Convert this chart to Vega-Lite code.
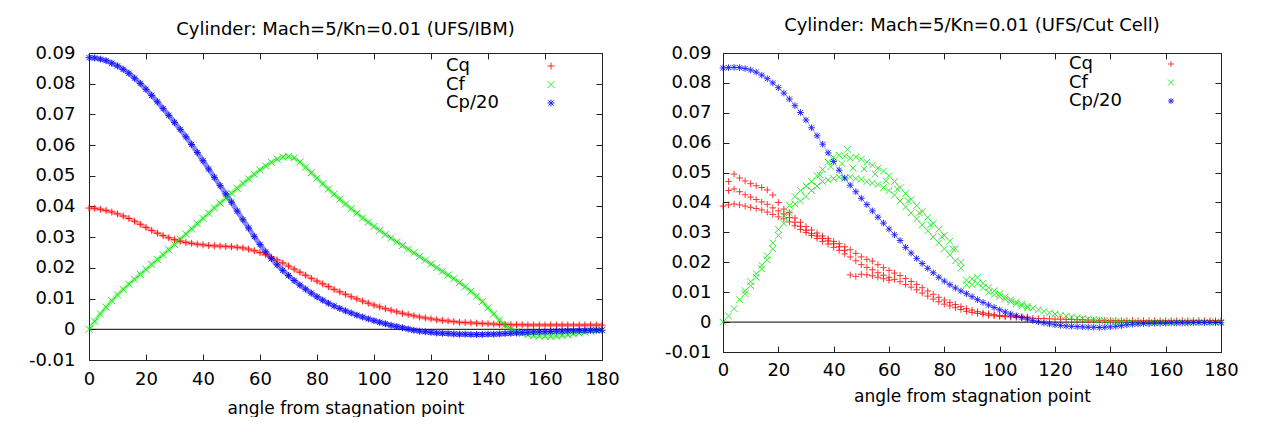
{
  "$schema": "https://vega.github.io/schema/vega-lite/v6.json",
  "background": "white",
  "padding": {"left": 27, "top": 16, "right": 0, "bottom": 0},
  "spacing": 43,
  "config": {
    "font": "DejaVu Sans",
    "view": {"stroke": "#222", "strokeWidth": 1},
    "axis": {"labelFont": "DejaVu Sans", "labelFontSize": 18, "labelColor": "#000", "titleFont": "DejaVu Sans", "titleFontSize": 17, "titleFontWeight": "normal", "titleColor": "#000", "domain": false, "grid": false, "tickColor": "#222", "tickSize": 6, "offset": -6, "labelPadding": 14, "labelFlush": false, "labelOverlap": false},
    "title": {"font": "DejaVu Sans", "fontSize": 18, "fontWeight": "normal", "color": "#000"}
  },
  "resolve": {"scale": {"color": "independent", "shape": "independent", "x": "independent", "y": "independent"}, "legend": {"color": "independent", "shape": "independent"}},
  "hconcat": [
    {
      "width": 513,
      "height": 307,
      "title": {"text": "Cylinder: Mach=5/Kn=0.01 (UFS/IBM)", "offset": 5},
      "data": {"values": [
        {"a":0,"q":0.0395,"f":0,"p":0.0885},{"a":2,"q":0.0394,"f":0.0026,"p":0.0884},{"a":4,"q":0.0391,"f":0.0050,"p":0.0880},{"a":6,"q":0.0387,"f":0.0072,"p":0.0875},{"a":8,"q":0.0382,"f":0.0093,"p":0.0867},{"a":10,"q":0.0376,"f":0.0112,"p":0.0858},{"a":12,"q":0.0369,"f":0.0130,"p":0.0847},{"a":14,"q":0.0361,"f":0.0147,"p":0.0834},{"a":16,"q":0.0352,"f":0.0163,"p":0.0818},{"a":18,"q":0.0342,"f":0.0179,"p":0.0801},
        {"a":20,"q":0.0332,"f":0.0195,"p":0.0782},{"a":22,"q":0.0322,"f":0.0211,"p":0.0762},{"a":24,"q":0.0313,"f":0.0227,"p":0.0741},{"a":26,"q":0.0305,"f":0.0243,"p":0.0719},{"a":28,"q":0.0298,"f":0.0259,"p":0.0697},{"a":30,"q":0.0292,"f":0.0276,"p":0.0674},{"a":32,"q":0.0287,"f":0.0293,"p":0.0651},{"a":34,"q":0.0283,"f":0.0310,"p":0.0627},{"a":36,"q":0.0280,"f":0.0327,"p":0.0602},{"a":38,"q":0.0277,"f":0.0344,"p":0.0576},
        {"a":40,"q":0.0275,"f":0.0361,"p":0.0549},{"a":42,"q":0.0273,"f":0.0378,"p":0.0522},{"a":44,"q":0.0272,"f":0.0395,"p":0.0495},{"a":46,"q":0.0271,"f":0.0411,"p":0.0468},{"a":48,"q":0.0270,"f":0.0427,"p":0.0441},{"a":50,"q":0.0269,"f":0.0443,"p":0.0414},{"a":52,"q":0.0267,"f":0.0459,"p":0.0385},{"a":54,"q":0.0265,"f":0.0475,"p":0.0357},{"a":56,"q":0.0261,"f":0.0490,"p":0.0330},{"a":58,"q":0.0256,"f":0.0505,"p":0.0302},
        {"a":60,"q":0.0250,"f":0.0519,"p":0.0276},{"a":62,"q":0.0243,"f":0.0532,"p":0.0252},{"a":64,"q":0.0235,"f":0.0544,"p":0.0230},{"a":66,"q":0.0226,"f":0.0554,"p":0.0210},{"a":68,"q":0.0216,"f":0.0561,"p":0.0192},{"a":70,"q":0.0206,"f":0.0563,"p":0.0175},{"a":72,"q":0.0196,"f":0.0558,"p":0.0159},{"a":74,"q":0.0186,"f":0.0545,"p":0.0144},{"a":76,"q":0.0176,"f":0.0528,"p":0.0131},{"a":78,"q":0.0166,"f":0.0510,"p":0.0118},
        {"a":80,"q":0.0157,"f":0.0492,"p":0.0106},{"a":82,"q":0.0148,"f":0.0474,"p":0.0095},{"a":84,"q":0.0139,"f":0.0457,"p":0.0085},{"a":86,"q":0.0130,"f":0.0440,"p":0.0076},{"a":88,"q":0.0122,"f":0.0424,"p":0.0068},{"a":90,"q":0.0114,"f":0.0408,"p":0.0060},{"a":92,"q":0.0106,"f":0.0393,"p":0.0053},{"a":94,"q":0.0099,"f":0.0378,"p":0.0046},{"a":96,"q":0.0092,"f":0.0363,"p":0.0040},{"a":98,"q":0.0085,"f":0.0349,"p":0.0034},
        {"a":100,"q":0.0079,"f":0.0335,"p":0.0028},{"a":102,"q":0.0073,"f":0.0322,"p":0.0023},{"a":104,"q":0.0067,"f":0.0309,"p":0.0018},{"a":106,"q":0.0062,"f":0.0297,"p":0.0013},{"a":108,"q":0.0057,"f":0.0285,"p":0.0009},{"a":110,"q":0.0052,"f":0.0273,"p":0.0005},{"a":112,"q":0.0048,"f":0.0261,"p":0.0001},{"a":114,"q":0.0044,"f":0.0249,"p":-0.0003},{"a":116,"q":0.0040,"f":0.0237,"p":-0.0006},{"a":118,"q":0.0037,"f":0.0225,"p":-0.0008},
        {"a":120,"q":0.0034,"f":0.0213,"p":-0.0010},{"a":122,"q":0.0031,"f":0.0201,"p":-0.0012},{"a":124,"q":0.0029,"f":0.0189,"p":-0.0013},{"a":126,"q":0.0027,"f":0.0177,"p":-0.0014},{"a":128,"q":0.0025,"f":0.0165,"p":-0.0015},{"a":130,"q":0.0023,"f":0.0152,"p":-0.0016},{"a":132,"q":0.0022,"f":0.0139,"p":-0.0016},{"a":134,"q":0.0021,"f":0.0124,"p":-0.0017},{"a":136,"q":0.0020,"f":0.0108,"p":-0.0017},{"a":138,"q":0.0019,"f":0.0090,"p":-0.0017},
        {"a":140,"q":0.0018,"f":0.0070,"p":-0.0016},{"a":142,"q":0.0017,"f":0.0050,"p":-0.0016},{"a":144,"q":0.0016,"f":0.0030,"p":-0.0015},{"a":146,"q":0.0016,"f":0.0013,"p":-0.0014},{"a":148,"q":0.0015,"f":0.0001,"p":-0.0013},{"a":150,"q":0.0015,"f":-0.0008,"p":-0.0012},{"a":152,"q":0.0015,"f":-0.0014,"p":-0.0011},{"a":154,"q":0.0014,"f":-0.0018,"p":-0.0010},{"a":156,"q":0.0014,"f":-0.0021,"p":-0.0009},{"a":158,"q":0.0014,"f":-0.0022,"p":-0.0008},
        {"a":160,"q":0.0014,"f":-0.0023,"p":-0.0008},{"a":162,"q":0.0014,"f":-0.0023,"p":-0.0007},{"a":164,"q":0.0014,"f":-0.0022,"p":-0.0006},{"a":166,"q":0.0014,"f":-0.0020,"p":-0.0006},{"a":168,"q":0.0014,"f":-0.0018,"p":-0.0005},{"a":170,"q":0.0014,"f":-0.0015,"p":-0.0005},{"a":172,"q":0.0014,"f":-0.0012,"p":-0.0004},{"a":174,"q":0.0014,"f":-0.0009,"p":-0.0004},{"a":176,"q":0.0014,"f":-0.0006,"p":-0.0003},{"a":178,"q":0.0014,"f":-0.0004,"p":-0.0003},
        {"a":180,"q":0.0014,"f":-0.0002,"p":-0.0003}
      ]},
      "resolve": {"axis": {"x": "independent", "y": "independent"}},
      "layer": [
        {
          "data": {"values": [{}]},
          "mark": {"type": "rule", "color": "#000", "strokeWidth": 1},
          "encoding": {"y": {"datum": 0, "type": "quantitative", "scale": {"domain": [-0.01, 0.09], "nice": false, "zero": false}, "axis": null}}
        },
        {
          "mark": {"type": "line", "strokeWidth": 4, "opacity": 0.45, "color": "#ff3030"},
          "encoding": {
            "x": {"field": "a", "type": "quantitative", "scale": {"domain": [0, 180], "nice": false}, "axis": null},
            "y": {"field": "q", "type": "quantitative", "scale": {"domain": [-0.01, 0.09], "nice": false, "zero": false}, "axis": null}
          }
        },
        {
          "mark": {"type": "line", "strokeWidth": 4, "opacity": 0.45, "color": "#20e820"},
          "encoding": {
            "x": {"field": "a", "type": "quantitative", "scale": {"domain": [0, 180], "nice": false}, "axis": null},
            "y": {"field": "f", "type": "quantitative", "scale": {"domain": [-0.01, 0.09], "nice": false, "zero": false}, "axis": null}
          }
        },
        {
          "mark": {"type": "line", "strokeWidth": 5, "opacity": 0.5, "color": "#1010ff"},
          "encoding": {
            "x": {"field": "a", "type": "quantitative", "scale": {"domain": [0, 180], "nice": false}, "axis": null},
            "y": {"field": "p", "type": "quantitative", "scale": {"domain": [-0.01, 0.09], "nice": false, "zero": false}, "axis": null}
          }
        },
        {
          "transform": [{"fold": ["q", "f", "p"], "as": ["k", "v"]}, {"filter": "isValid(datum.v)"}],
          "mark": {"type": "point", "filled": false, "strokeWidth": 1, "opacity": 0.85},
          "encoding": {
            "x": {"field": "a", "type": "quantitative", "scale": {"domain": [0, 180], "nice": false}, "axis": {"values": [0,20,40,60,80,100,120,140,160,180], "title": "angle from stagnation point", "labelPadding": 10, "titlePadding": 12}},
            "y": {"field": "v", "type": "quantitative", "scale": {"domain": [-0.01, 0.09], "nice": false, "zero": false}, "axis": {"values": [-0.01,0,0.01,0.02,0.03,0.04,0.05,0.06,0.07,0.08,0.09], "format": ".2~f", "labelExpr": "replace(datum.label, '\u2212', '-')", "title": null}},
            "color": {"field": "k", "type": "nominal", "scale": {"domain": ["q", "f", "p"], "range": ["#ff0000", "#00e600", "#0000ff"]}, "legend": {"orient": "none", "legendX": 453, "legendY": 4, "title": null, "values": ["q", "f", "p"], "labelExpr": "datum.value == 'q' ? 'Cq' : datum.value == 'f' ? 'Cf' : 'Cp/20'", "labelFont": "DejaVu Sans", "labelFontSize": 18, "labelColor": "#000", "symbolSize": 49, "symbolStrokeWidth": 1, "symbolOffset": 0, "labelOffset": -114, "rowPadding": 0.5, "padding": 0}},
            "shape": {"field": "k", "type": "nominal", "scale": {"domain": ["q", "f", "p"], "range": ["M-1,0L1,0M0,-1L0,1", "M-1,-1L1,1M-1,1L1,-1", "M-1,0L1,0M0,-1L0,1M-0.75,-0.75L0.75,0.75M-0.75,0.75L0.75,-0.75"]}, "legend": {"orient": "none", "legendX": 453, "legendY": 4, "title": null, "values": ["q", "f", "p"], "labelExpr": "datum.value == 'q' ? 'Cq' : datum.value == 'f' ? 'Cf' : 'Cp/20'", "labelFont": "DejaVu Sans", "labelFontSize": 18, "labelColor": "#000", "symbolSize": 49, "symbolStrokeWidth": 1, "symbolOffset": 0, "labelOffset": -114, "rowPadding": 0.5, "padding": 0}},
            "size": {"value": 49}
          }
        },
        {
          "mark": {"type": "point", "opacity": 0},
          "encoding": {
            "x": {"field": "a", "type": "quantitative", "scale": {"domain": [0, 180], "nice": false}, "axis": {"orient": "top", "values": [0,20,40,60,80,100,120,140,160,180], "labels": false, "labelPadding": 0, "title": null}},
            "y": {"field": "p", "type": "quantitative", "scale": {"domain": [-0.01, 0.09], "nice": false, "zero": false}, "axis": {"orient": "right", "values": [-0.01,0,0.01,0.02,0.03,0.04,0.05,0.06,0.07,0.08,0.09], "labels": false, "labelPadding": 0, "title": null}}
          }
        }
      ]
    },
    {
      "width": 498,
      "height": 299,
      "title": {"text": "Cylinder: Mach=5/Kn=0.01 (UFS/Cut Cell)", "offset": 9},
      "data": {"values": [
        {"a":0,"q":0.0388,"f":0,"p":0.0850},
        {"a":2,"q":0.0392,"q2":0.0470,"q3":0.0440,"f":0.0020,"p":0.0851},
        {"a":4,"q":0.0395,"q2":0.0495,"q3":0.0445,"f":0.0045,"p":0.0852},
        {"a":6,"q":0.0392,"q2":0.0482,"q3":0.0436,"f":0.0075,"p":0.0851},
        {"a":8,"q":0.0388,"q2":0.0472,"q3":0.0426,"f":0.0105,"f2":0.0095,"p":0.0848},
        {"a":10,"q":0.0384,"q2":0.0463,"q3":0.0418,"f":0.0135,"f2":0.0122,"p":0.0843},
        {"a":12,"q":0.0380,"q2":0.0456,"q3":0.0410,"f":0.0162,"f2":0.0150,"p":0.0836},
        {"a":14,"q":0.0375,"q2":0.0450,"q3":0.0402,"f":0.0190,"f2":0.0178,"p":0.0826},
        {"a":16,"q":0.0368,"q2":0.0442,"q3":0.0394,"f":0.0222,"f2":0.0208,"p":0.0814},
        {"a":18,"q":0.0360,"q2":0.0425,"q3":0.0382,"f":0.0265,"f2":0.0245,"p":0.0800},
        {"a":20,"q":0.0352,"q2":0.0400,"q3":0.0372,"f":0.0310,"f2":0.0290,"p":0.0784},
        {"a":22,"q":0.0345,"q2":0.0378,"q3":0.0362,"f":0.0355,"f2":0.0330,"p":0.0766},
        {"a":24,"q":0.0335,"q2":0.0366,"q3":0.0350,"f":0.0390,"f2":0.0365,"p":0.0746},
        {"a":26,"q":0.0322,"q2":0.0348,"q3":0.0334,"f":0.0420,"f2":0.0395,"p":0.0724},
        {"a":28,"q":0.0310,"q2":0.0334,"q3":0.0320,"f":0.0440,"f2":0.0405,"p":0.0701},
        {"a":30,"q":0.0300,"q2":0.0320,"q3":0.0307,"f":0.0455,"f2":0.0420,"p":0.0676},
        {"a":32,"q":0.0290,"q2":0.0308,"q3":0.0296,"f":0.0470,"f2":0.0440,"p":0.0650},
        {"a":34,"q":0.0280,"q2":0.0298,"q3":0.0288,"f":0.0490,"f2":0.0455,"p":0.0623},
        {"a":36,"q":0.0270,"q2":0.0288,"q3":0.0280,"f":0.0510,"f2":0.0470,"p":0.0595},
        {"a":38,"q":0.0261,"q2":0.0279,"q3":0.0272,"f":0.0535,"f2":0.0475,"p":0.0566},
        {"a":40,"q":0.0250,"q2":0.0270,"q3":0.0262,"f":0.0550,"f2":0.0480,"p":0.0537},
        {"a":42,"q":0.0240,"q2":0.0262,"q3":0.0252,"f":0.0558,"f2":0.0485,"p":0.0508},
        {"a":44,"q":0.0228,"q2":0.0252,"q3":0.0240,"f":0.0555,"f2":0.0480,"p":0.0482},
        {"a":46,"q":0.0218,"q2":0.0242,"q3":0.0158,"f":0.0548,"f2":0.0485,"p":0.0458},
        {"a":48,"q":0.0205,"q2":0.0230,"q3":0.0153,"f":0.0552,"f2":0.0480,"p":0.0436},
        {"a":50,"q":0.0192,"q2":0.0218,"q3":0.0160,"f":0.0545,"f2":0.0478,"p":0.0414},
        {"a":52,"q":0.0183,"q2":0.0210,"q3":0.0158,"f":0.0535,"f2":0.0470,"p":0.0393},
        {"a":54,"q":0.0175,"q2":0.0204,"q3":0.0155,"f":0.0525,"f2":0.0465,"p":0.0372},
        {"a":56,"q":0.0165,"q2":0.0192,"q3":0.0150,"f":0.0515,"f2":0.0460,"p":0.0351},
        {"a":58,"q":0.0157,"q2":0.0182,"q3":0.0145,"f":0.0505,"f2":0.0450,"p":0.0331},
        {"a":60,"q":0.0150,"q2":0.0173,"q3":0.0140,"f":0.0490,"f2":0.0440,"p":0.0311},
        {"a":62,"q":0.0143,"q2":0.0164,"f":0.0470,"f2":0.0425,"p":0.0292},
        {"a":64,"q":0.0135,"q2":0.0156,"f":0.0450,"f2":0.0405,"p":0.0273},
        {"a":66,"q":0.0126,"q2":0.0146,"f":0.0430,"f2":0.0385,"p":0.0250},
        {"a":68,"q":0.0117,"q2":0.0136,"f":0.0410,"f2":0.0365,"p":0.0231},
        {"a":70,"q":0.0108,"q2":0.0126,"f":0.0390,"f2":0.0345,"p":0.0213},
        {"a":72,"q":0.0097,"q2":0.0115,"f":0.0370,"f2":0.0325,"p":0.0196},
        {"a":74,"q":0.0087,"q2":0.0104,"f":0.0350,"f2":0.0305,"p":0.0180},
        {"a":76,"q":0.0077,"q2":0.0093,"f":0.0330,"f2":0.0285,"p":0.0165},
        {"a":78,"q":0.0068,"q2":0.0083,"f":0.0310,"f2":0.0265,"p":0.0150},
        {"a":80,"q":0.0060,"q2":0.0074,"f":0.0290,"f2":0.0245,"p":0.0137},
        {"a":82,"q":0.0054,"q2":0.0066,"f":0.0270,"f2":0.0225,"p":0.0125},
        {"a":84,"q":0.0048,"q2":0.0059,"f":0.0245,"f2":0.0205,"p":0.0114},
        {"a":86,"q":0.0042,"q2":0.0052,"f":0.0200,"f2":0.0180,"p":0.0104},
        {"a":88,"q":0.0036,"q2":0.0045,"f":0.0140,"f2":0.0125,"p":0.0095},
        {"a":90,"q":0.0032,"q2":0.0040,"f":0.0145,"f2":0.0125,"p":0.0085},
        {"a":92,"q":0.0029,"q2":0.0035,"f":0.0150,"f2":0.0130,"p":0.0075},
        {"a":94,"q":0.0026,"q2":0.0031,"f":0.0130,"f2":0.0115,"p":0.0066},
        {"a":96,"q":0.0023,"q2":0.0028,"f":0.0115,"f2":0.0100,"p":0.0057},
        {"a":98,"q":0.0021,"q2":0.0025,"f":0.0105,"f2":0.0092,"p":0.0049},
        {"a":100,"q":0.0019,"q2":0.0022,"f":0.0095,"f2":0.0085,"p":0.0041},
        {"a":102,"q":0.0018,"q2":0.0021,"f":0.0085,"f2":0.0077,"p":0.0034},
        {"a":104,"q":0.0017,"q2":0.0020,"f":0.0075,"f2":0.0068,"p":0.0027},
        {"a":106,"q":0.0016,"q2":0.0019,"f":0.0067,"f2":0.0061,"p":0.0021},
        {"a":108,"q":0.0015,"q2":0.0018,"f":0.0060,"f2":0.0054,"p":0.0015},
        {"a":110,"q":0.0014,"q2":0.0017,"f":0.0053,"f2":0.0048,"p":0.0010},
        {"a":112,"q":0.0013,"f":0.0047,"p":0.0005},
        {"a":114,"q":0.0012,"f":0.0041,"p":0.0001},
        {"a":116,"q":0.0012,"f":0.0036,"p":-0.0003},
        {"a":118,"q":0.0011,"f":0.0031,"p":-0.0006},
        {"a":120,"q":0.0010,"f":0.0027,"p":-0.0009},
        {"a":122,"q":0.0010,"f":0.0023,"p":-0.0011},
        {"a":124,"q":0.0009,"f":0.0020,"p":-0.0013},
        {"a":126,"q":0.0009,"f":0.0017,"p":-0.0014},
        {"a":128,"q":0.0008,"f":0.0014,"p":-0.0015},
        {"a":130,"q":0.0008,"f":0.0012,"p":-0.0016},
        {"a":132,"q":0.0007,"f":0.0010,"p":-0.0017},
        {"a":134,"q":0.0007,"f":0.0008,"p":-0.0017},
        {"a":136,"q":0.0006,"f":0.0006,"p":-0.0018},
        {"a":138,"q":0.0006,"f":0.0004,"p":-0.0017},
        {"a":140,"q":0.0005,"f":0.0003,"p":-0.0016},
        {"a":142,"q":0.0005,"f":0.0002,"p":-0.0014},
        {"a":144,"q":0.0005,"f":0.0001,"p":-0.0012},
        {"a":146,"q":0.0005,"f":0.0000,"p":-0.0009},
        {"a":148,"q":0.0005,"f":-0.0001,"p":-0.0007},
        {"a":150,"q":0.0005,"f":-0.0001,"p":-0.0006},
        {"a":152,"q":0.0005,"f":-0.0001,"p":-0.0005},
        {"a":154,"q":0.0005,"f":-0.0001,"p":-0.0005},
        {"a":156,"q":0.0005,"f":-0.0001,"p":-0.0004},
        {"a":158,"q":0.0005,"f":0.0000,"p":-0.0004},
        {"a":160,"q":0.0005,"f":0.0000,"p":-0.0004},
        {"a":162,"q":0.0005,"f":0.0000,"p":-0.0003},
        {"a":164,"q":0.0005,"f":0.0000,"p":-0.0003},
        {"a":166,"q":0.0005,"f":0.0000,"p":-0.0003},
        {"a":168,"q":0.0005,"f":0.0000,"p":-0.0003},
        {"a":170,"q":0.0005,"f":0.0000,"p":-0.0002},
        {"a":172,"q":0.0005,"f":0.0000,"p":-0.0002},
        {"a":174,"q":0.0005,"f":0.0000,"p":-0.0002},
        {"a":176,"q":0.0005,"f":0.0000,"p":-0.0002},
        {"a":178,"q":0.0005,"f":0.0000,"p":-0.0002},
        {"a":180,"q":0.0005,"f":0.0000,"p":-0.0002},
        {"a":35,"f3":0.0492},{"a":39,"f3":0.0520},{"a":43,"f3":0.0530},{"a":45,"f3":0.0578},{"a":47,"f3":0.0515},{"a":51,"f3":0.0512},{"a":55,"f3":0.0495},{"a":59,"f3":0.0472},{"a":63,"f3":0.0445},{"a":67,"f3":0.0405},{"a":71,"f3":0.0365},{"a":75,"f3":0.0325},{"a":79,"f3":0.0285},{"a":83,"f3":0.0245}
      ]},
      "resolve": {"axis": {"x": "independent", "y": "independent"}},
      "layer": [
        {
          "data": {"values": [{}]},
          "mark": {"type": "rule", "color": "#000", "strokeWidth": 1},
          "encoding": {"y": {"datum": 0, "type": "quantitative", "scale": {"domain": [-0.01, 0.09], "nice": false, "zero": false}, "axis": null}}
        },
        {
          "transform": [{"filter": "isValid(datum.p)"}],
          "mark": {"type": "line", "strokeWidth": 1, "opacity": 0.35, "color": "#0000ff"},
          "encoding": {
            "x": {"field": "a", "type": "quantitative", "scale": {"domain": [0, 180], "nice": false}, "axis": null},
            "y": {"field": "p", "type": "quantitative", "scale": {"domain": [-0.01, 0.09], "nice": false, "zero": false}, "axis": null}
          }
        },
        {
          "transform": [{"fold": ["q", "q2", "q3", "f", "f2", "f3", "p"], "as": ["k", "v"]}, {"filter": "isValid(datum.v)"}],
          "mark": {"type": "point", "filled": false, "strokeWidth": 1, "opacity": 0.8},
          "encoding": {
            "x": {"field": "a", "type": "quantitative", "scale": {"domain": [0, 180], "nice": false}, "axis": {"values": [0,20,40,60,80,100,120,140,160,180], "title": "angle from stagnation point", "labelPadding": 9, "titlePadding": 9}},
            "y": {"field": "v", "type": "quantitative", "scale": {"domain": [-0.01, 0.09], "nice": false, "zero": false}, "axis": {"values": [-0.01,0,0.01,0.02,0.03,0.04,0.05,0.06,0.07,0.08,0.09], "format": ".2~f", "labelExpr": "replace(datum.label, '\u2212', '-')", "title": null, "labelPadding": 12}},
            "color": {"field": "k", "type": "nominal", "scale": {"domain": ["q", "q2", "q3", "f", "f2", "f3", "p"], "range": ["#ff0000", "#ff0000", "#ff0000", "#00e600", "#00e600", "#00e600", "#0000ff"]}, "legend": {"orient": "none", "legendX": 439, "legendY": 2, "title": null, "values": ["q", "f", "p"], "labelExpr": "datum.value == 'q' ? 'Cq' : datum.value == 'f' ? 'Cf' : 'Cp/20'", "labelFont": "DejaVu Sans", "labelFontSize": 18, "labelColor": "#000", "symbolSize": 36, "symbolStrokeWidth": 1, "symbolOffset": 0, "labelOffset": -111, "rowPadding": 0.5, "padding": 0}},
            "shape": {"field": "k", "type": "nominal", "scale": {"domain": ["q", "q2", "q3", "f", "f2", "f3", "p"], "range": ["M-1,0L1,0M0,-1L0,1", "M-1,0L1,0M0,-1L0,1", "M-1,0L1,0M0,-1L0,1", "M-1,-1L1,1M-1,1L1,-1", "M-1,-1L1,1M-1,1L1,-1", "M-1,-1L1,1M-1,1L1,-1", "M-1,0L1,0M0,-1L0,1M-0.75,-0.75L0.75,0.75M-0.75,0.75L0.75,-0.75"]}, "legend": {"orient": "none", "legendX": 439, "legendY": 2, "title": null, "values": ["q", "f", "p"], "labelExpr": "datum.value == 'q' ? 'Cq' : datum.value == 'f' ? 'Cf' : 'Cp/20'", "labelFont": "DejaVu Sans", "labelFontSize": 18, "labelColor": "#000", "symbolSize": 36, "symbolStrokeWidth": 1, "symbolOffset": 0, "labelOffset": -111, "rowPadding": 0.5, "padding": 0}},
            "size": {"value": 44}
          }
        },
        {
          "mark": {"type": "point", "opacity": 0},
          "encoding": {
            "x": {"field": "a", "type": "quantitative", "scale": {"domain": [0, 180], "nice": false}, "axis": {"orient": "top", "values": [0,20,40,60,80,100,120,140,160,180], "labels": false, "labelPadding": 0, "title": null}},
            "y": {"field": "p", "type": "quantitative", "scale": {"domain": [-0.01, 0.09], "nice": false, "zero": false}, "axis": {"orient": "right", "values": [-0.01,0,0.01,0.02,0.03,0.04,0.05,0.06,0.07,0.08,0.09], "labels": false, "labelPadding": 0, "title": null}}
          }
        }
      ]
    }
  ]
}
